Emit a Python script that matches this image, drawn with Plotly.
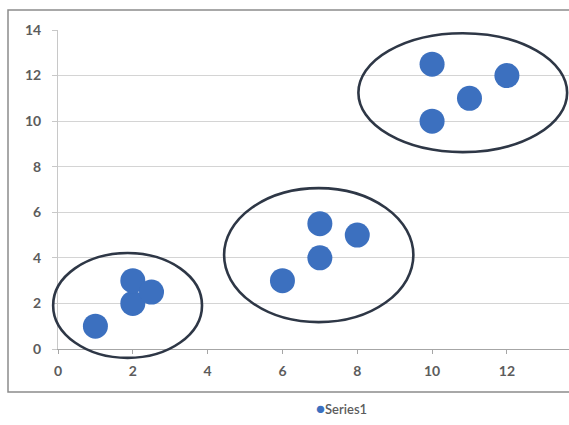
import plotly.graph_objects as go

# Data points
x_vals = [1, 2, 2, 2.5, 6, 7, 7, 8, 10, 10, 11, 12]
y_vals = [1, 2, 3, 2.5, 3, 4, 5.5, 5, 10, 12.5, 11, 12]
series_name = "Series1"

# Cluster outlines: centre and half-widths in data units
cluster_cx = [1.86, 6.97, 10.82]
cluster_cy = [1.91, 4.12, 11.25]
cluster_rx = [1.99, 2.53, 2.79]
cluster_ry = [2.30, 2.94, 2.61]

x_ticks = [0, 2, 4, 6, 8, 10, 12]
y_ticks = [0, 2, 4, 6, 8, 10, 12, 14]
x_range = [0, 13.66]
y_range = [0, 14]

W, H = 569, 425
ML, MR, MT, MB = 58, 0, 30, 76

BLUE = "#3c70bf"
INK = "#2e3746"
TXT = "#5c5c5c"
FONT = "Lato"


def to_paper_x(v):
    return (v - x_range[0]) / (x_range[1] - x_range[0])


def to_paper_y(v):
    return (v - y_range[0]) / (y_range[1] - y_range[0])


fig = go.Figure()
fig.add_trace(go.Scatter(
    x=x_vals, y=y_vals, mode="markers", name=series_name,
    marker=dict(size=25, color=BLUE, line=dict(width=0)),
    showlegend=False, cliponaxis=False,
))

pw = W - ML - MR
ph = H - MT - MB

shapes = []
# outer chart frame
shapes.append(dict(
    type="rect", xref="paper", yref="paper",
    x0=(8 - ML) / pw, x1=(W + 5 - ML) / pw,
    y0=-(392 - (H - MB)) / ph, y1=((H - MB) - 10) / ph,
    line=dict(color="#8c8c8c", width=1.5), fillcolor="rgba(0,0,0,0)",
    layer="below",
))
for cx, cy, rx, ry in zip(cluster_cx, cluster_cy, cluster_rx, cluster_ry):
    shapes.append(dict(
        type="circle", xref="paper", yref="paper",
        x0=to_paper_x(cx - rx), x1=to_paper_x(cx + rx),
        y0=to_paper_y(cy - ry), y1=to_paper_y(cy + ry),
        line=dict(color=INK, width=2.6), layer="above",
    ))

# legend key below the chart
legend_key = dict(
    xref="paper", yref="paper",
    x=(341 - ML) / pw, y=-(408 - (H - MB)) / ph,
    xanchor="center", yanchor="middle", showarrow=False,
    text=f"<span style='color:{BLUE};font-size:15px'>●</span>{series_name}",
    font=dict(family=FONT, size=13, color=TXT, weight=600),
)

tick_font = dict(family=FONT, size=14, color=TXT, weight=700)

fig.update_layout(
    width=W, height=H,
    margin=dict(l=ML, r=MR, t=MT, b=MB),
    paper_bgcolor="white", plot_bgcolor="white",
    font=dict(family=FONT, size=14, color=TXT),
    shapes=shapes,
    annotations=[legend_key],
    showlegend=False,
    xaxis=dict(
        range=x_range, tickvals=x_ticks, showgrid=False, zeroline=False,
        showline=True, linecolor="#a6a6a6", linewidth=1,
        ticks="outside", ticklen=4, tickcolor="#a6a6a6",
        ticklabelstandoff=5,
        tickfont=tick_font,
    ),
    yaxis=dict(
        range=y_range, tickvals=y_ticks, showgrid=True, gridcolor="#d4d4d4",
        gridwidth=1, zeroline=False,
        showline=True, linecolor="#c8c8c8", linewidth=1,
        ticks="outside", ticklen=5, tickcolor="#c8c8c8",
        ticklabelstandoff=8,
        tickfont=tick_font,
    ),
)

fig.write_html("out.html")
